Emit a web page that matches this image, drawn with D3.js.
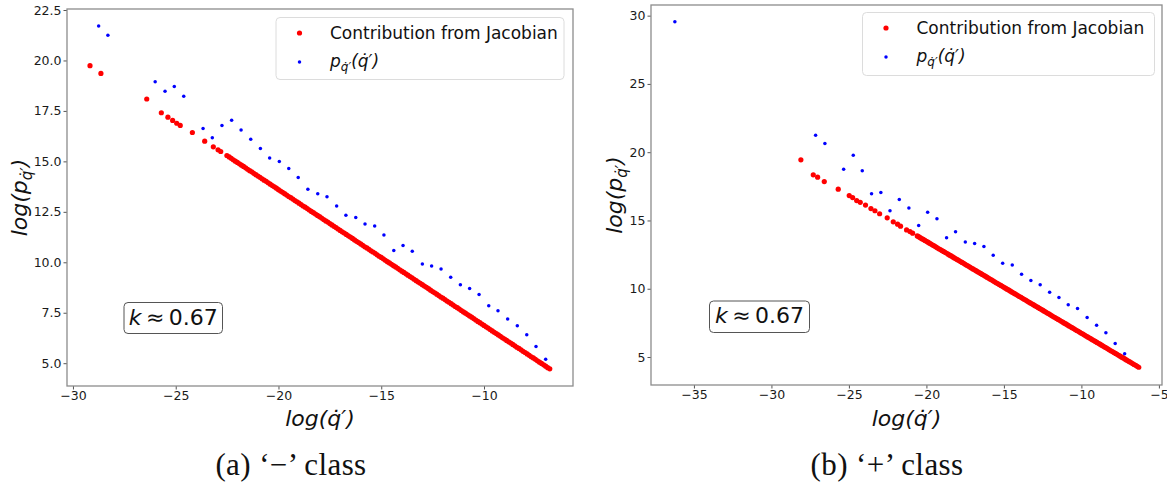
<!DOCTYPE html>
<html>
<head>
<meta charset="utf-8">
<script src="https://cdn.jsdelivr.net/npm/d3@7"></script>
<style>
  body { margin: 0; background: #fff; }
</style>
</head>
<body>
<div id="chart"></div>
<script>
// ---- data ----

// '-' class : contribution from Jacobian (sparse head + dense tail)
const minusJacX = [-29.17, -28.64, -26.41, -25.70, -25.38, -25.15, -24.95, -24.78, -24.19, -23.59, -23.17, -22.94, -22.81, -22.51];
const minusJacY = [19.74, 19.36, 18.09, 17.41, 17.19, 17.03, 16.89, 16.78, 16.43, 16.00, 15.72, 15.57, 15.49, 15.29];
const minusJacDenseX = [
  -22.4, -22.3, -22.2, -22.1, -22.0, -21.9, -21.8, -21.7, -21.6, -21.5,
  -21.4, -21.3, -21.2, -21.1, -21.0, -20.9, -20.8, -20.7, -20.6, -20.5,
  -20.4, -20.3, -20.2, -20.1, -20.0, -19.9, -19.8, -19.7, -19.6, -19.5,
  -19.4, -19.3, -19.2, -19.1, -19.0, -18.9, -18.8, -18.7, -18.6, -18.5,
  -18.4, -18.3, -18.2, -18.1, -18.0, -17.9, -17.8, -17.7, -17.6, -17.5,
  -17.4, -17.3, -17.2, -17.1, -17.0, -16.9, -16.8, -16.7, -16.6, -16.5,
  -16.4, -16.3, -16.2, -16.1, -16.0, -15.9, -15.8, -15.7, -15.6, -15.5,
  -15.4, -15.3, -15.2, -15.1, -15.0, -14.9, -14.8, -14.7, -14.6, -14.5,
  -14.4, -14.3, -14.2, -14.1, -14.0, -13.9, -13.8, -13.7, -13.6, -13.5,
  -13.4, -13.3, -13.2, -13.1, -13.0, -12.9, -12.8, -12.7, -12.6, -12.5,
  -12.4, -12.3, -12.2, -12.1, -12.0, -11.9, -11.8, -11.7, -11.6, -11.5,
  -11.4, -11.3, -11.2, -11.1, -11.0, -10.9, -10.8, -10.7, -10.6, -10.5,
  -10.4, -10.3, -10.2, -10.1, -10.0, -9.9, -9.8, -9.7, -9.6, -9.5,
  -9.4, -9.3, -9.2, -9.1, -9.0, -8.9, -8.8, -8.7, -8.6, -8.5,
  -8.4, -8.3, -8.2, -8.1, -8.0, -7.9, -7.8, -7.7, -7.6, -7.5,
  -7.4, -7.3, -7.2, -7.1, -7.0, -6.9, -6.8
];
const minusJacDenseY = [
  15.22, 15.15, 15.08, 15.01, 14.95, 14.88, 14.81, 14.75, 14.68, 14.61,
  14.54, 14.48, 14.41, 14.34, 14.27, 14.21, 14.14, 14.07, 14.01, 13.94,
  13.87, 13.80, 13.74, 13.67, 13.60, 13.53, 13.47, 13.40, 13.33, 13.26,
  13.20, 13.13, 13.06, 13.00, 12.93, 12.86, 12.79, 12.73, 12.66, 12.59,
  12.52, 12.46, 12.39, 12.32, 12.26, 12.19, 12.12, 12.05, 11.99, 11.92,
  11.85, 11.78, 11.72, 11.65, 11.58, 11.51, 11.45, 11.38, 11.31, 11.25,
  11.18, 11.11, 11.04, 10.98, 10.91, 10.84, 10.77, 10.71, 10.64, 10.57,
  10.51, 10.44, 10.37, 10.30, 10.24, 10.17, 10.10, 10.03, 9.97, 9.90,
  9.83, 9.77, 9.70, 9.63, 9.56, 9.50, 9.43, 9.36, 9.29, 9.23,
  9.16, 9.09, 9.02, 8.96, 8.89, 8.82, 8.76, 8.69, 8.62, 8.55,
  8.49, 8.42, 8.35, 8.28, 8.22, 8.15, 8.08, 8.02, 7.95, 7.88,
  7.81, 7.75, 7.68, 7.61, 7.54, 7.48, 7.41, 7.34, 7.28, 7.21,
  7.14, 7.07, 7.01, 6.94, 6.87, 6.80, 6.74, 6.67, 6.60, 6.53,
  6.47, 6.40, 6.33, 6.26, 6.20, 6.13, 6.06, 6.00, 5.93, 5.86,
  5.79, 5.73, 5.66, 5.59, 5.53, 5.46, 5.39, 5.32, 5.26, 5.19,
  5.12, 5.05, 4.99, 4.92, 4.85, 4.78, 4.72
];
// '-' class : p(q')
const minusPX = [-28.75, -28.30, -26.00, -25.52, -25.07, -24.61, -23.67, -23.22, -22.75, -22.28, -21.82, -21.35, -20.88, -20.43, -19.96, -19.50, -19.04, -18.57, -18.09, -17.64, -17.17, -16.72, -16.24, -15.79, -15.32, -14.87, -14.39, -13.94, -13.49, -13.00, -12.55, -12.09, -11.62, -11.15, -10.70, -10.24, -9.77, -9.32, -8.85, -8.38, -7.92, -7.47, -7.00];
const minusPY = [21.71, 21.25, 18.94, 18.48, 18.71, 18.23, 16.63, 16.17, 16.78, 17.04, 16.56, 16.10, 15.64, 15.17, 14.99, 14.65, 14.20, 13.62, 13.39, 13.25, 12.79, 12.33, 12.22, 11.90, 11.80, 11.35, 10.58, 10.83, 10.55, 9.92, 9.82, 9.67, 9.26, 8.89, 8.70, 8.40, 7.85, 7.60, 7.19, 6.86, 6.41, 5.83, 5.20];

// '+' class : contribution from Jacobian
const plusJacX = [-28.10, -27.30, -27.02, -26.59, -25.69, -24.98, -24.76, -24.50, -24.27, -23.93, -23.58, -23.32, -23.02, -22.53, -22.14, -21.86, -21.67, -21.28, -21.06, -20.89, -20.59];
const plusJacY = [19.44, 18.34, 18.17, 17.85, 17.29, 16.82, 16.68, 16.46, 16.33, 16.13, 15.87, 15.71, 15.49, 15.19, 14.90, 14.73, 14.58, 14.31, 14.19, 14.07, 13.87];
const plusJacDenseX = [
  -20.5, -20.4, -20.3, -20.2, -20.1, -20.0, -19.9, -19.8, -19.7, -19.6,
  -19.5, -19.4, -19.3, -19.2, -19.1, -19.0, -18.9, -18.8, -18.7, -18.6,
  -18.5, -18.4, -18.3, -18.2, -18.1, -18.0, -17.9, -17.8, -17.7, -17.6,
  -17.5, -17.4, -17.3, -17.2, -17.1, -17.0, -16.9, -16.8, -16.7, -16.6,
  -16.5, -16.4, -16.3, -16.2, -16.1, -16.0, -15.9, -15.8, -15.7, -15.6,
  -15.5, -15.4, -15.3, -15.2, -15.1, -15.0, -14.9, -14.8, -14.7, -14.6,
  -14.5, -14.4, -14.3, -14.2, -14.1, -14.0, -13.9, -13.8, -13.7, -13.6,
  -13.5, -13.4, -13.3, -13.2, -13.1, -13.0, -12.9, -12.8, -12.7, -12.6,
  -12.5, -12.4, -12.3, -12.2, -12.1, -12.0, -11.9, -11.8, -11.7, -11.6,
  -11.5, -11.4, -11.3, -11.2, -11.1, -11.0, -10.9, -10.8, -10.7, -10.6,
  -10.5, -10.4, -10.3, -10.2, -10.1, -10.0, -9.9, -9.8, -9.7, -9.6,
  -9.5, -9.4, -9.3, -9.2, -9.1, -9.0, -8.9, -8.8, -8.7, -8.6,
  -8.5, -8.4, -8.3, -8.2, -8.1, -8.0, -7.9, -7.8, -7.7, -7.6,
  -7.5, -7.4, -7.3, -7.2, -7.1, -7.0, -6.9, -6.8, -6.7, -6.6,
  -6.5, -6.4, -6.3
];
const plusJacDenseY = [
  13.81, 13.74, 13.67, 13.61, 13.54, 13.47, 13.41, 13.34, 13.27, 13.20,
  13.14, 13.07, 13.00, 12.93, 12.87, 12.80, 12.73, 12.67, 12.60, 12.53,
  12.46, 12.40, 12.33, 12.26, 12.19, 12.13, 12.06, 11.99, 11.93, 11.86,
  11.79, 11.72, 11.66, 11.59, 11.52, 11.45, 11.39, 11.32, 11.25, 11.18,
  11.12, 11.05, 10.98, 10.92, 10.85, 10.78, 10.71, 10.65, 10.58, 10.51,
  10.44, 10.38, 10.31, 10.24, 10.18, 10.11, 10.04, 9.97, 9.91, 9.84,
  9.77, 9.70, 9.64, 9.57, 9.50, 9.43, 9.37, 9.30, 9.23, 9.17,
  9.10, 9.03, 8.96, 8.90, 8.83, 8.76, 8.69, 8.63, 8.56, 8.49,
  8.43, 8.36, 8.29, 8.22, 8.16, 8.09, 8.02, 7.95, 7.89, 7.82,
  7.75, 7.69, 7.62, 7.55, 7.48, 7.42, 7.35, 7.28, 7.21, 7.15,
  7.08, 7.01, 6.94, 6.88, 6.81, 6.74, 6.68, 6.61, 6.54, 6.47,
  6.41, 6.34, 6.27, 6.20, 6.14, 6.07, 6.00, 5.94, 5.87, 5.80,
  5.73, 5.67, 5.60, 5.53, 5.46, 5.40, 5.33, 5.26, 5.20, 5.13,
  5.06, 4.99, 4.93, 4.86, 4.79, 4.72, 4.66, 4.59, 4.52, 4.45,
  4.39, 4.32, 4.25
];
// '+' class : p(q')
const plusPX = [-36.23, -27.15, -26.55, -25.34, -24.72, -24.14, -23.54, -22.94, -22.35, -21.75, -21.13, -20.50, -19.92, -19.32, -18.70, -18.12, -17.49, -16.89, -16.29, -15.69, -15.08, -14.46, -13.86, -13.26, -12.66, -12.05, -11.45, -10.85, -10.25, -9.63, -9.02, -8.42, -7.82, -7.21];
const plusPY = [29.56, 21.24, 20.63, 18.75, 19.78, 18.65, 16.95, 17.05, 15.72, 16.54, 15.92, 14.63, 15.61, 15.12, 13.73, 14.17, 13.43, 13.31, 13.09, 12.46, 11.87, 11.73, 11.07, 10.60, 10.29, 9.75, 9.36, 8.82, 8.55, 7.89, 7.33, 6.77, 5.99, 5.23];

// ticks
const minusXTicks = [-30, -25, -20, -15, -10];
const minusYTicks = [5, 7.5, 10, 12.5, 15, 17.5, 20, 22.5];
const plusXTicks = [-35, -30, -25, -20, -15, -10, -5];
const plusYTicks = [5, 10, 15, 20, 25, 30];

const legendLabels = ["Contribution from Jacobian", "p"];
const kLabel = "0.67";
const captions = ["(a) \u2018\u2212\u2019 class", "(b) \u2018+\u2019 class"];

// ---- drawing ----
const W = 1167, H = 487;
const SANS = "'DejaVu Sans', sans-serif";
const svg = d3.select("#chart").append("svg")
    .attr("width", W).attr("height", H)
    .style("background", "#fff")
    .style("font-family", SANS);

const zip = (xs, ys) => xs.map((x, i) => [x, ys[i]]);

// q with a dot above and a prime, built from pieces so the dot sits over the q
function qdot(sel) {
  sel.append("tspan").text("q");
  sel.append("tspan").attr("dx", "-0.57em").text("\u02D9");
  sel.append("tspan").attr("dx", "0.07em").text("\u2032");
}

function panel(cfg) {
  const x = d3.scaleLinear().domain(cfg.xDomain).range([cfg.left, cfg.right]);
  const y = d3.scaleLinear().domain(cfg.yDomain).range([cfg.bottom, cfg.top]);
  const g = svg.append("g");

  // points: jacobian first, then p(q')
  const red = zip(cfg.jacX, cfg.jacY).concat(zip(cfg.jacDX, cfg.jacDY));
  g.append("g").selectAll("circle").data(red).join("circle")
      .attr("cx", d => x(d[0])).attr("cy", d => y(d[1]))
      .attr("r", 2.6).attr("fill", "#ff0000");
  g.append("g").selectAll("circle").data(zip(cfg.pX, cfg.pY)).join("circle")
      .attr("cx", d => x(d[0])).attr("cy", d => y(d[1]))
      .attr("r", 1.75).attr("fill", "#0000ff");

  // axes
  const xa = g.append("g").attr("transform", `translate(0,${cfg.bottom})`)
      .call(d3.axisBottom(x).tickValues(cfg.xTicks).tickSize(3.5).tickPadding(2)
        .tickFormat(d => d < 0 ? "\u2212" + Math.abs(d) : d));
  const ya = g.append("g").attr("transform", `translate(${cfg.left},0)`)
      .call(d3.axisLeft(y).tickValues(cfg.yTicks).tickSize(3.5).tickPadding(2)
        .tickFormat(cfg.yFmt));
  [xa, ya].forEach(a => {
    a.select(".domain").remove();
    a.selectAll("line").attr("stroke", "#555");
    a.selectAll("text").attr("font-size", 12.5).attr("fill", "#1a1a1a")
      .attr("font-family", SANS);
  });

  // frame
  g.append("rect")
      .attr("x", cfg.left).attr("y", cfg.top)
      .attr("width", cfg.right - cfg.left).attr("height", cfg.bottom - cfg.top)
      .attr("fill", "none").attr("stroke", "#8c8c8c").attr("stroke-width", 1.3);

  // axis labels
  const cx = (cfg.left + cfg.right) / 2;
  const xl = g.append("text").attr("x", cx).attr("y", 426)
      .attr("text-anchor", "middle").attr("font-size", 22)
      .attr("font-style", "italic").attr("fill", "#111");
  xl.append("tspan").text("log(");
  qdot(xl);
  xl.append("tspan").text(")");

  const yl = g.append("text")
      .attr("transform", `translate(${cfg.ylabelX},${(cfg.top + cfg.bottom) / 2}) rotate(-90)`)
      .attr("text-anchor", "middle").attr("font-size", 22)
      .attr("font-style", "italic").attr("fill", "#111");
  yl.append("tspan").text("log(p");
  qdot(yl.append("tspan").attr("font-size", 15).attr("dy", 5));
  yl.append("tspan").attr("dy", -5).text(")");

  // legend
  const lg = g.append("g");
  lg.append("rect")
      .attr("x", cfg.leg[0]).attr("y", cfg.leg[1])
      .attr("width", cfg.leg[2]).attr("height", cfg.leg[3])
      .attr("rx", 4).attr("fill", "#fff").attr("fill-opacity", 0.8)
      .attr("stroke", "#dcdcdc").attr("stroke-width", 1);
  const mx = cfg.leg[0] + 23.5, tx = cfg.leg[0] + 54;
  lg.append("circle").attr("cx", mx).attr("cy", cfg.leg[1] + 15.5).attr("r", 2.6).attr("fill", "#ff0000");
  lg.append("circle").attr("cx", mx).attr("cy", cfg.leg[1] + 44.5).attr("r", 1.75).attr("fill", "#0000ff");
  lg.append("text").attr("x", tx).attr("y", cfg.leg[1] + 21.5)
      .attr("font-size", 17).attr("fill", "#111").text(legendLabels[0]);
  const t2 = lg.append("text").attr("x", tx).attr("y", cfg.leg[1] + 49)
      .attr("font-size", 17).attr("font-style", "italic").attr("fill", "#111");
  t2.append("tspan").text(legendLabels[1]);
  qdot(t2.append("tspan").attr("font-size", 12).attr("dy", 4));
  t2.append("tspan").attr("dy", -4).text("(");
  qdot(t2);
  t2.append("tspan").text(")");

  // k annotation
  const kb = g.append("g");
  kb.append("rect")
      .attr("x", cfg.kbox[0]).attr("y", cfg.kbox[1])
      .attr("width", cfg.kbox[2]).attr("height", cfg.kbox[3])
      .attr("rx", 4).attr("fill", "#fff").attr("stroke", "#555").attr("stroke-width", 1);
  const kt = kb.append("text")
      .attr("x", cfg.kbox[0] + cfg.kbox[2] / 2).attr("y", cfg.kbox[1] + 22)
      .attr("text-anchor", "middle").attr("font-size", 22).attr("fill", "#111");
  kt.append("tspan").attr("font-style", "italic").text("k");
  kt.append("tspan").text("\u2009\u2248\u2009" + kLabel);

  // caption
  g.append("text").attr("x", cfg.capX).attr("y", 475)
      .attr("text-anchor", "middle").attr("font-size", 31)
      .attr("letter-spacing", 0.4)
      .style("font-family", "'Liberation Serif', serif").attr("fill", "#111")
      .text(cfg.caption);
}

panel({
  xDomain: [-30.29, -5.67], yDomain: [3.87, 22.55],
  left: 67, right: 573, top: 9, bottom: 386,
  jacX: minusJacX, jacY: minusJacY, jacDX: minusJacDenseX, jacDY: minusJacDenseY,
  pX: minusPX, pY: minusPY,
  xTicks: minusXTicks, yTicks: minusYTicks, yFmt: d3.format(".1f"),
  ylabelX: 27,
  leg: [276, 17.5, 288, 62],
  kbox: [124, 302.5, 98.5, 31],
  capX: 291, caption: captions[0]
});

panel({
  xDomain: [-37.77, -4.8], yDomain: [2.95, 30.78],
  left: 651, right: 1162, top: 5, bottom: 385,
  jacX: plusJacX, jacY: plusJacY, jacDX: plusJacDenseX, jacDY: plusJacDenseY,
  pX: plusPX, pY: plusPY,
  xTicks: plusXTicks, yTicks: plusYTicks, yFmt: d3.format("d"),
  ylabelX: 622,
  leg: [862.5, 12.5, 292, 63],
  kbox: [709.5, 301, 100, 31.5],
  capX: 887, caption: captions[1]
});
</script>
</body>
</html>
